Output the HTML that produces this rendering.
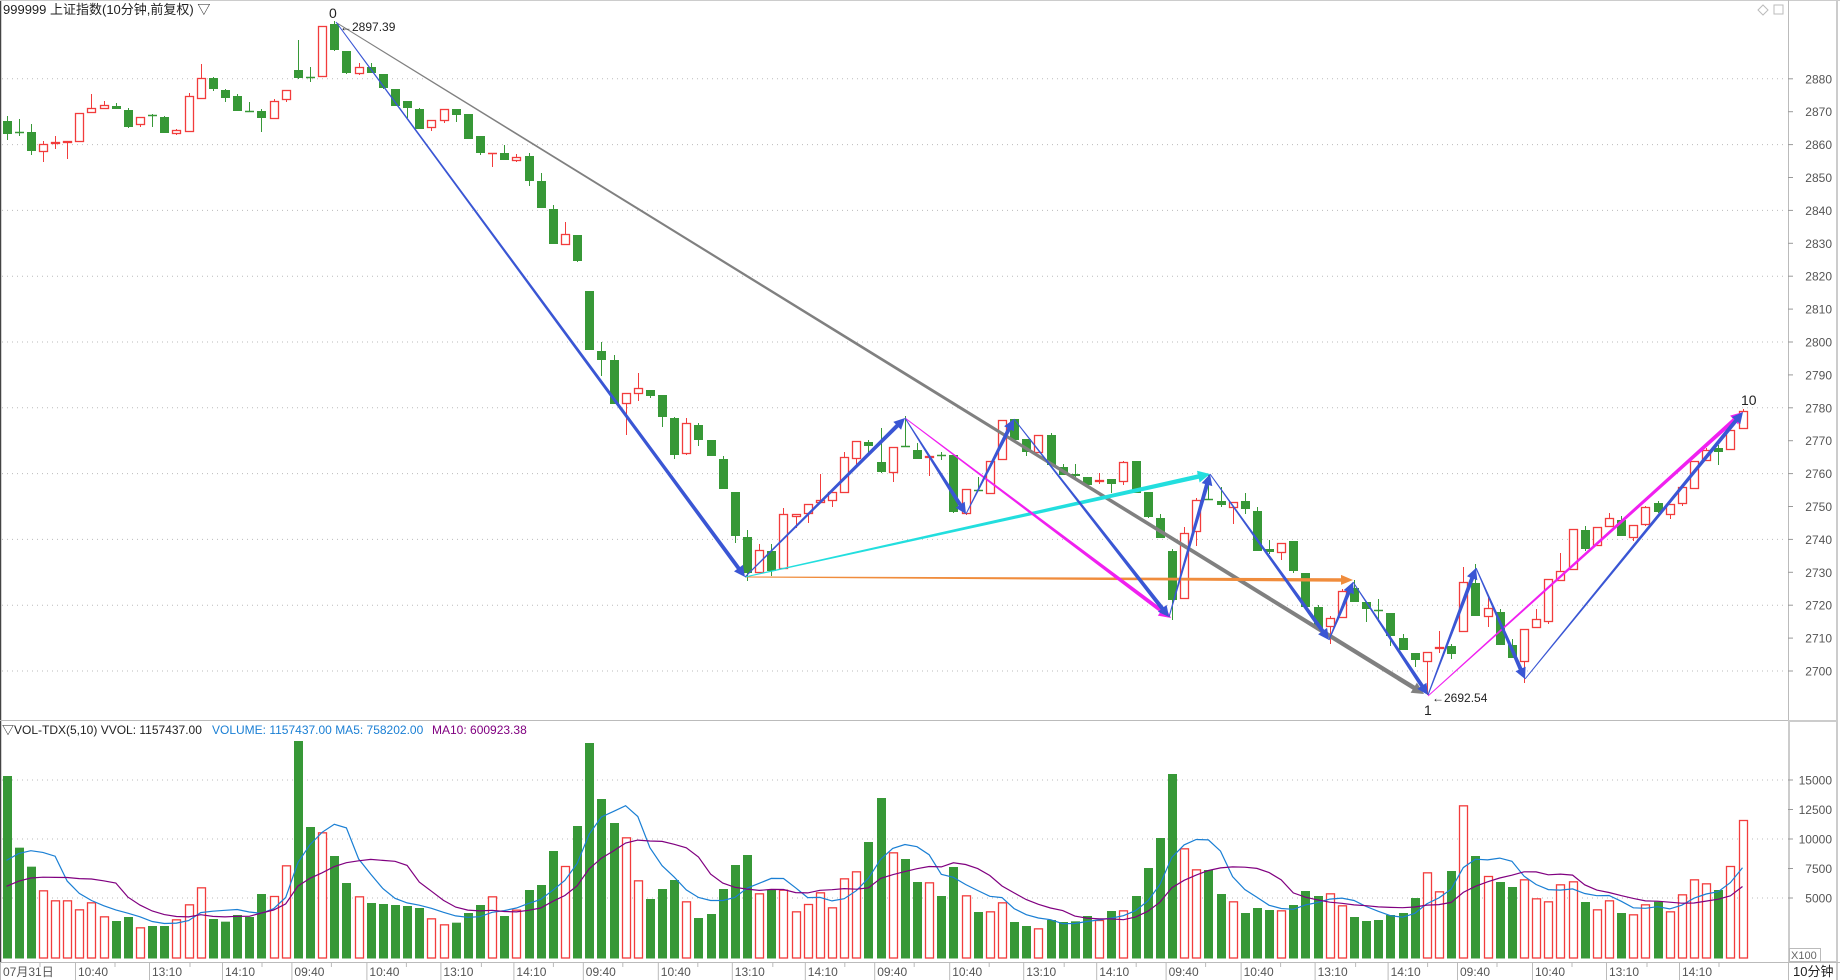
<!DOCTYPE html>
<html><head><meta charset="utf-8">
<style>
html,body{margin:0;padding:0;background:#fff;}
svg{display:block;}
text{font-family:"Liberation Sans","Noto Sans CJK SC",sans-serif;}
</style></head>
<body>
<svg id="c" width="1840" height="980" viewBox="0 0 1840 980" xmlns="http://www.w3.org/2000/svg">
<rect x="0" y="0" width="1840" height="980" fill="#fff"/>
<g id="grid"></g>
<g id="vol"></g>
<g id="ma"></g>
<g id="candles"></g>
<g id="arrows"></g>
<g id="axes"></g>
<text x="3" y="14" font-size="13" fill="#222">999999 上证指数(10分钟,前复权) ▽</text>
<text x="329" y="18" font-size="14" fill="#222">0</text>
<text x="340" y="31" font-size="12" fill="#222">←2897.39</text>
<text x="1424" y="715" font-size="14" fill="#222">1</text>
<text x="1432" y="702" font-size="12" fill="#222">←2692.54</text>
<text x="1741" y="405" font-size="14" fill="#222">10</text>
<text x="2" y="734" font-size="12" fill="#222">▽VOL-TDX(5,10) VVOL: 1157437.00</text>
<text x="212" y="734" font-size="12" fill="#1a7fd4">VOLUME: 1157437.00  MA5: 758202.00</text>
<text x="432" y="734" font-size="12" fill="#800080">MA10: 600923.38</text>
<g fill="none" stroke="#bbb" stroke-width="1">
<path d="M1758 10 L1763 5 L1768 10 L1763 15 Z"/>
<rect x="1774" y="5" width="9" height="9"/>
</g>
</svg>
<script>
const NS="http://www.w3.org/2000/svg";
function el(p,t,a,txt){const e=document.createElementNS(NS,t);for(const k in a)e.setAttribute(k,a[k]);if(txt!==undefined)e.textContent=txt;document.getElementById(p).appendChild(e);return e;}
const C=`0 G 121 134 116 140
1 G 132 132 119 136
2 G 132 151 124 155
3 R 144 152 141 162
4 R 142 144 136 149
5 R 141 143 141 159
6 R 113 142 113 142
7 R 108 113 94 113
8 R 105 109 101 109
9 G 106 109 103 109
10 G 110 127 108 128
11 R 117 125 117 127
12 G 115 116 114 127
13 G 117 133 116 133
14 R 130 134 129 135
15 R 96 132 93 132
16 R 78 99 64 99
17 G 78 89 77 91
18 G 90 98 89 102
19 G 96 111 94 111
20 G 111 112 102 112
21 G 111 118 109 132
22 R 101 119 99 119
23 R 90 100 90 102
24 G 70 78 40 79
25 G 77 77 67 82
26 R 26 77 26 77
27 G 24 50 21 51
28 G 51 73 51 74
29 R 67 74 63 75
30 G 67 73 63 73
31 G 74 88 74 89
32 G 89 106 89 106
33 G 101 108 101 118
34 G 109 129 108 129
35 R 120 128 120 131
36 R 109 121 109 123
37 G 109 115 109 122
38 G 114 139 114 139
39 G 136 153 136 155
40 R 153 154 153 167
41 G 153 160 145 160
42 R 157 161 154 162
43 G 156 181 153 186
44 G 181 208 173 208
45 G 209 244 205 244
46 R 234 245 222 245
47 G 235 261 235 262
48 G 291 350 291 350
49 G 351 360 342 376
50 G 360 404 355 404
51 R 393 404 393 435
52 R 388 394 373 401
53 G 390 396 390 398
54 G 395 417 395 427
55 G 418 455 417 459
56 R 423 454 418 455
57 G 425 440 423 446
58 G 440 456 440 456
59 G 459 489 456 489
60 G 492 536 492 543
61 G 537 573 530 581
62 R 550 573 544 573
63 G 551 571 544 576
64 R 514 569 508 569
65 R 514 517 514 528
66 R 504 514 504 523
67 R 500 503 474 503
68 R 492 501 492 507
69 R 457 493 452 493
70 R 441 459 441 466
71 G 442 446 440 455
72 G 462 472 428 473
73 R 447 473 447 482
74 G 446 447 416 447
75 G 450 459 443 459
76 R 456 458 456 476
77 G 455 455 452 460
78 G 455 512 455 513
79 R 489 514 489 515
80 G 490 491 477 491
81 R 461 494 461 494
82 R 420 460 420 460
83 G 419 440 419 440
84 G 439 452 439 456
85 R 435 453 435 453
86 G 435 465 433 465
87 G 467 475 464 475
88 G 474 476 464 477
89 G 477 485 477 485
90 R 480 482 473 484
91 G 479 484 479 493
92 R 462 482 461 485
93 G 461 493 461 493
94 G 492 517 492 518
95 G 518 538 514 538
96 G 551 600 549 620
97 R 533 599 527 599
98 R 500 532 498 546
99 G 499 499 474 500
100 G 501 505 487 507
101 R 502 508 502 524
102 G 501 509 493 514
103 G 511 551 507 551
104 G 549 552 540 554
105 R 543 553 543 560
106 G 541 571 541 573
107 G 573 607 573 607
108 G 607 628 605 630
109 R 618 627 616 644
110 R 591 618 589 618
111 G 588 602 580 602
112 G 602 609 602 622
113 G 610 611 599 622
114 G 613 636 613 646
115 G 638 650 634 650
116 G 653 660 653 667
117 R 652 662 652 695
118 R 647 649 631 653
119 G 646 654 644 659
120 R 582 632 567 632
121 G 583 616 564 616
122 R 608 617 598 627
123 G 612 645 609 645
124 G 645 658 639 658
125 R 629 662 629 683
126 R 619 628 609 628
127 R 579 622 579 624
128 R 571 581 553 581
129 R 529 570 529 570
130 G 530 549 526 551
131 R 527 546 527 546
132 R 518 527 513 527
133 G 520 536 516 536
134 R 525 538 525 541
135 R 507 525 506 526
136 G 503 512 501 513
137 R 504 515 504 519
138 R 487 504 487 506
139 R 461 489 461 489
140 R 450 461 448 461
141 G 448 452 445 465
142 R 430 450 430 450
143 R 411 429 409 429`.split("\n").map(l=>l.trim().split(/\s+/));
const V=[168,383,440,511,541,541,568,547,589,603,591,622,618,618,598,553,502,597,605,585,591,522,528,436,63,321,337,408,489,529,549,552,555,558,564,595,613,608,579,555,529,588,569,510,495,393,438,318,69,237,
309,352,481,537,507,480,544,594,582,507,435,405,520,509,509,574,552,517,562,475,454,366,234,397,417,486,487,528,441,526,576,574,547,606,618,625,600,606,604,588,600,573,571,528,444,354,162,385,
448,450,522,544,579,564,570,571,555,513,528,520,556,591,603,600,585,579,534,457,514,453,256,408,468,486,501,478,535,544,493,484,546,568,541,579,583,553,545,574,523,478,490,510,438,300];
const GR="#379837",RD="#f23c3c";
const X=i=>6.5+12.14*i;
for(let k=0;k<10;k++){const y=671-65.8*k;el("grid","line",{x1:2,x2:1786,y1:y,y2:y,stroke:"#bbb","stroke-dasharray":"1 4"});}
[780,839,898].forEach(y=>el("grid","line",{x1:2,x2:1786,y1:y,y2:y,stroke:"#bbb","stroke-dasharray":"1 4"}));
C.forEach(r=>{const i=+r[0],red=r[1]=="R",bt=+r[2],bb=+r[3],wt=+r[4],wb=+r[5];const x=Math.round(X(i));const col=red?RD:GR;
 if(red){ if(wt<bt)el("candles","line",{x1:x+.5,x2:x+.5,y1:wt,y2:bt,stroke:col});
  if(wb>bb)el("candles","line",{x1:x+.5,x2:x+.5,y1:bb,y2:wb,stroke:col});
  if(bb-bt<1.5)el("candles","line",{x1:x-4,x2:x+5,y1:bt+.5,y2:bt+.5,stroke:col,"stroke-width":1.5});
  else el("candles","rect",{x:x-3.5,y:bt+.5,width:8,height:bb-bt-1,fill:"#fff",stroke:col,"stroke-width":1.3});
 } else { el("candles","line",{x1:x+.5,x2:x+.5,y1:wt,y2:wb,stroke:col});
  if(bb-bt<1.5)el("candles","line",{x1:x-4,x2:x+5,y1:bt+.5,y2:bt+.5,stroke:col,"stroke-width":1.5});
  else el("candles","rect",{x:x-4,y:bt,width:9,height:bb-bt,fill:col});}
});
const Z=958.5;const H=V.map(p=>Z-(720+p/3));
V.forEach((p,i)=>{const red=C[i][1]=="R";const x=Math.round(X(i));const top=720+p/3;
 if(red)el("vol","rect",{x:x-3.5,y:top+.5,width:8,height:Z-top-1,fill:"#fff",stroke:RD,"stroke-width":1.3});
 else el("vol","rect",{x:x-4,y:top,width:9,height:Z-top,fill:GR});});
function ma(n,col,fill){let pts=[];for(let i=0;i<H.length;i++){let s=0;for(let j=i-n+1;j<=i;j++){s+=(j<0?fill:H[j]);}pts.push(X(i).toFixed(1)+","+(Z-s/n).toFixed(1));}
 el("ma","polyline",{points:pts.join(" "),fill:"none",stroke:col,"stroke-width":1.2});}
ma(5,"#1a7fd4",77);ma(10,"#800080",60);
function arr(x1,y1,x2,y2,w1,w2,col,hl,hw){const dx=x2-x1,dy=y2-y1,L=Math.hypot(dx,dy),ux=dx/L,uy=dy/L,nx=-uy,ny=ux;
 const bx=x2-ux*hl,by=y2-uy*hl;
 const p=[[x1+nx*w1/2,y1+ny*w1/2],[bx+nx*w2/2,by+ny*w2/2],[bx+nx*hw,by+ny*hw],[x2,y2],[bx-nx*hw,by-ny*hw],[bx-nx*w2/2,by-ny*w2/2],[x1-nx*w1/2,y1-ny*w1/2]];
 el("arrows","polygon",{points:p.map(q=>q[0].toFixed(1)+","+q[1].toFixed(1)).join(" "),fill:col});}
const BL="#3a56d4",MG="#f020f0";
arr(337,23,1424,694,1,4.5,"#808080",12,6);
arr(745,577,1353,580,1,3.5,"#f08c3c",12,5);
arr(745,577,1210,474,1,4.5,"#22dede",12,6);
arr(905,418,1171,618,1,4,MG,12,6);
arr(1428,696,1743,412,1,4,MG,12,6);
const B=[[336,22],[745,577],[905,418],[966,514],[1014,419],[1169,617],[1210,474],[1329,640],[1353,582],[1428,695],[1476,568],[1525,679],[1743,412]];
for(let k=0;k<B.length-1;k++)arr(B[k][0],B[k][1],B[k+1][0],B[k+1][1],1,4,BL,11,5.5);
const A="axes";
el(A,"line",{x1:0.5,x2:0.5,y1:0,y2:962,stroke:"#444","stroke-width":1.5});
el(A,"line",{x1:0,x2:1840,y1:0.5,y2:0.5,stroke:"#ccc"});
el(A,"line",{x1:1788.5,x2:1788.5,y1:0,y2:980,stroke:"#bbb"});
el(A,"line",{x1:0,x2:1788,y1:720.5,y2:720.5,stroke:"#bbb"});
el(A,"rect",{x:1789,y:721,width:48,height:241,fill:"none",stroke:"#ccc","stroke-width":2});
el(A,"line",{x1:1837,x2:1837,y1:0,y2:980,stroke:"#ccc","stroke-width":2});
el(A,"line",{x1:0,x2:1840,y1:962.5,y2:962.5,stroke:"#bbb"});
for(let p=2700;p<=2880;p+=10){const y=671-(p-2700)*3.29;el(A,"line",{x1:1788,x2:1793,y1:y,y2:y,stroke:"#999"});
 el(A,"text",{x:1832,y:y+4.5,"font-size":12,fill:"#555","text-anchor":"end"},String(p));}
[[15000,780],[12500,809.5],[10000,839],[7500,868.5],[5000,898]].forEach(a=>{el(A,"line",{x1:1788,x2:1793,y1:a[1],y2:a[1],stroke:"#999"});
 el(A,"text",{x:1832,y:a[1]+4.5,"font-size":12,fill:"#555","text-anchor":"end"},String(a[0]));});
el(A,"rect",{x:1789.5,y:948.5,width:31,height:13,fill:"none",stroke:"#bbb"});
el(A,"text",{x:1791,y:959,"font-size":11,fill:"#666"},"X100");
el(A,"text",{x:1793,y:976,"font-size":13,fill:"#222"},"10分钟");
const labs=["10:40","13:10","14:10"];
for(let d=0;d<6;d++){const b=d*291.4;
 const first=d==0?"07月31日":"09:40";
 [[first,3],[labs[0],78],[labs[1],152],[labs[2],225]].forEach(l=>{const x=b+l[1];
  el(A,"line",{x1:x-2.5,x2:x-2.5,y1:962,y2:980,stroke:"#bbb"});
  el(A,"text",{x:x,y:976,"font-size":12,fill:"#555"},l[0]);});
 [40,115,190,262].forEach(o=>el(A,"line",{x1:b+o,x2:b+o,y1:962,y2:967,stroke:"#bbb"}));
}
</script>
</body></html>
